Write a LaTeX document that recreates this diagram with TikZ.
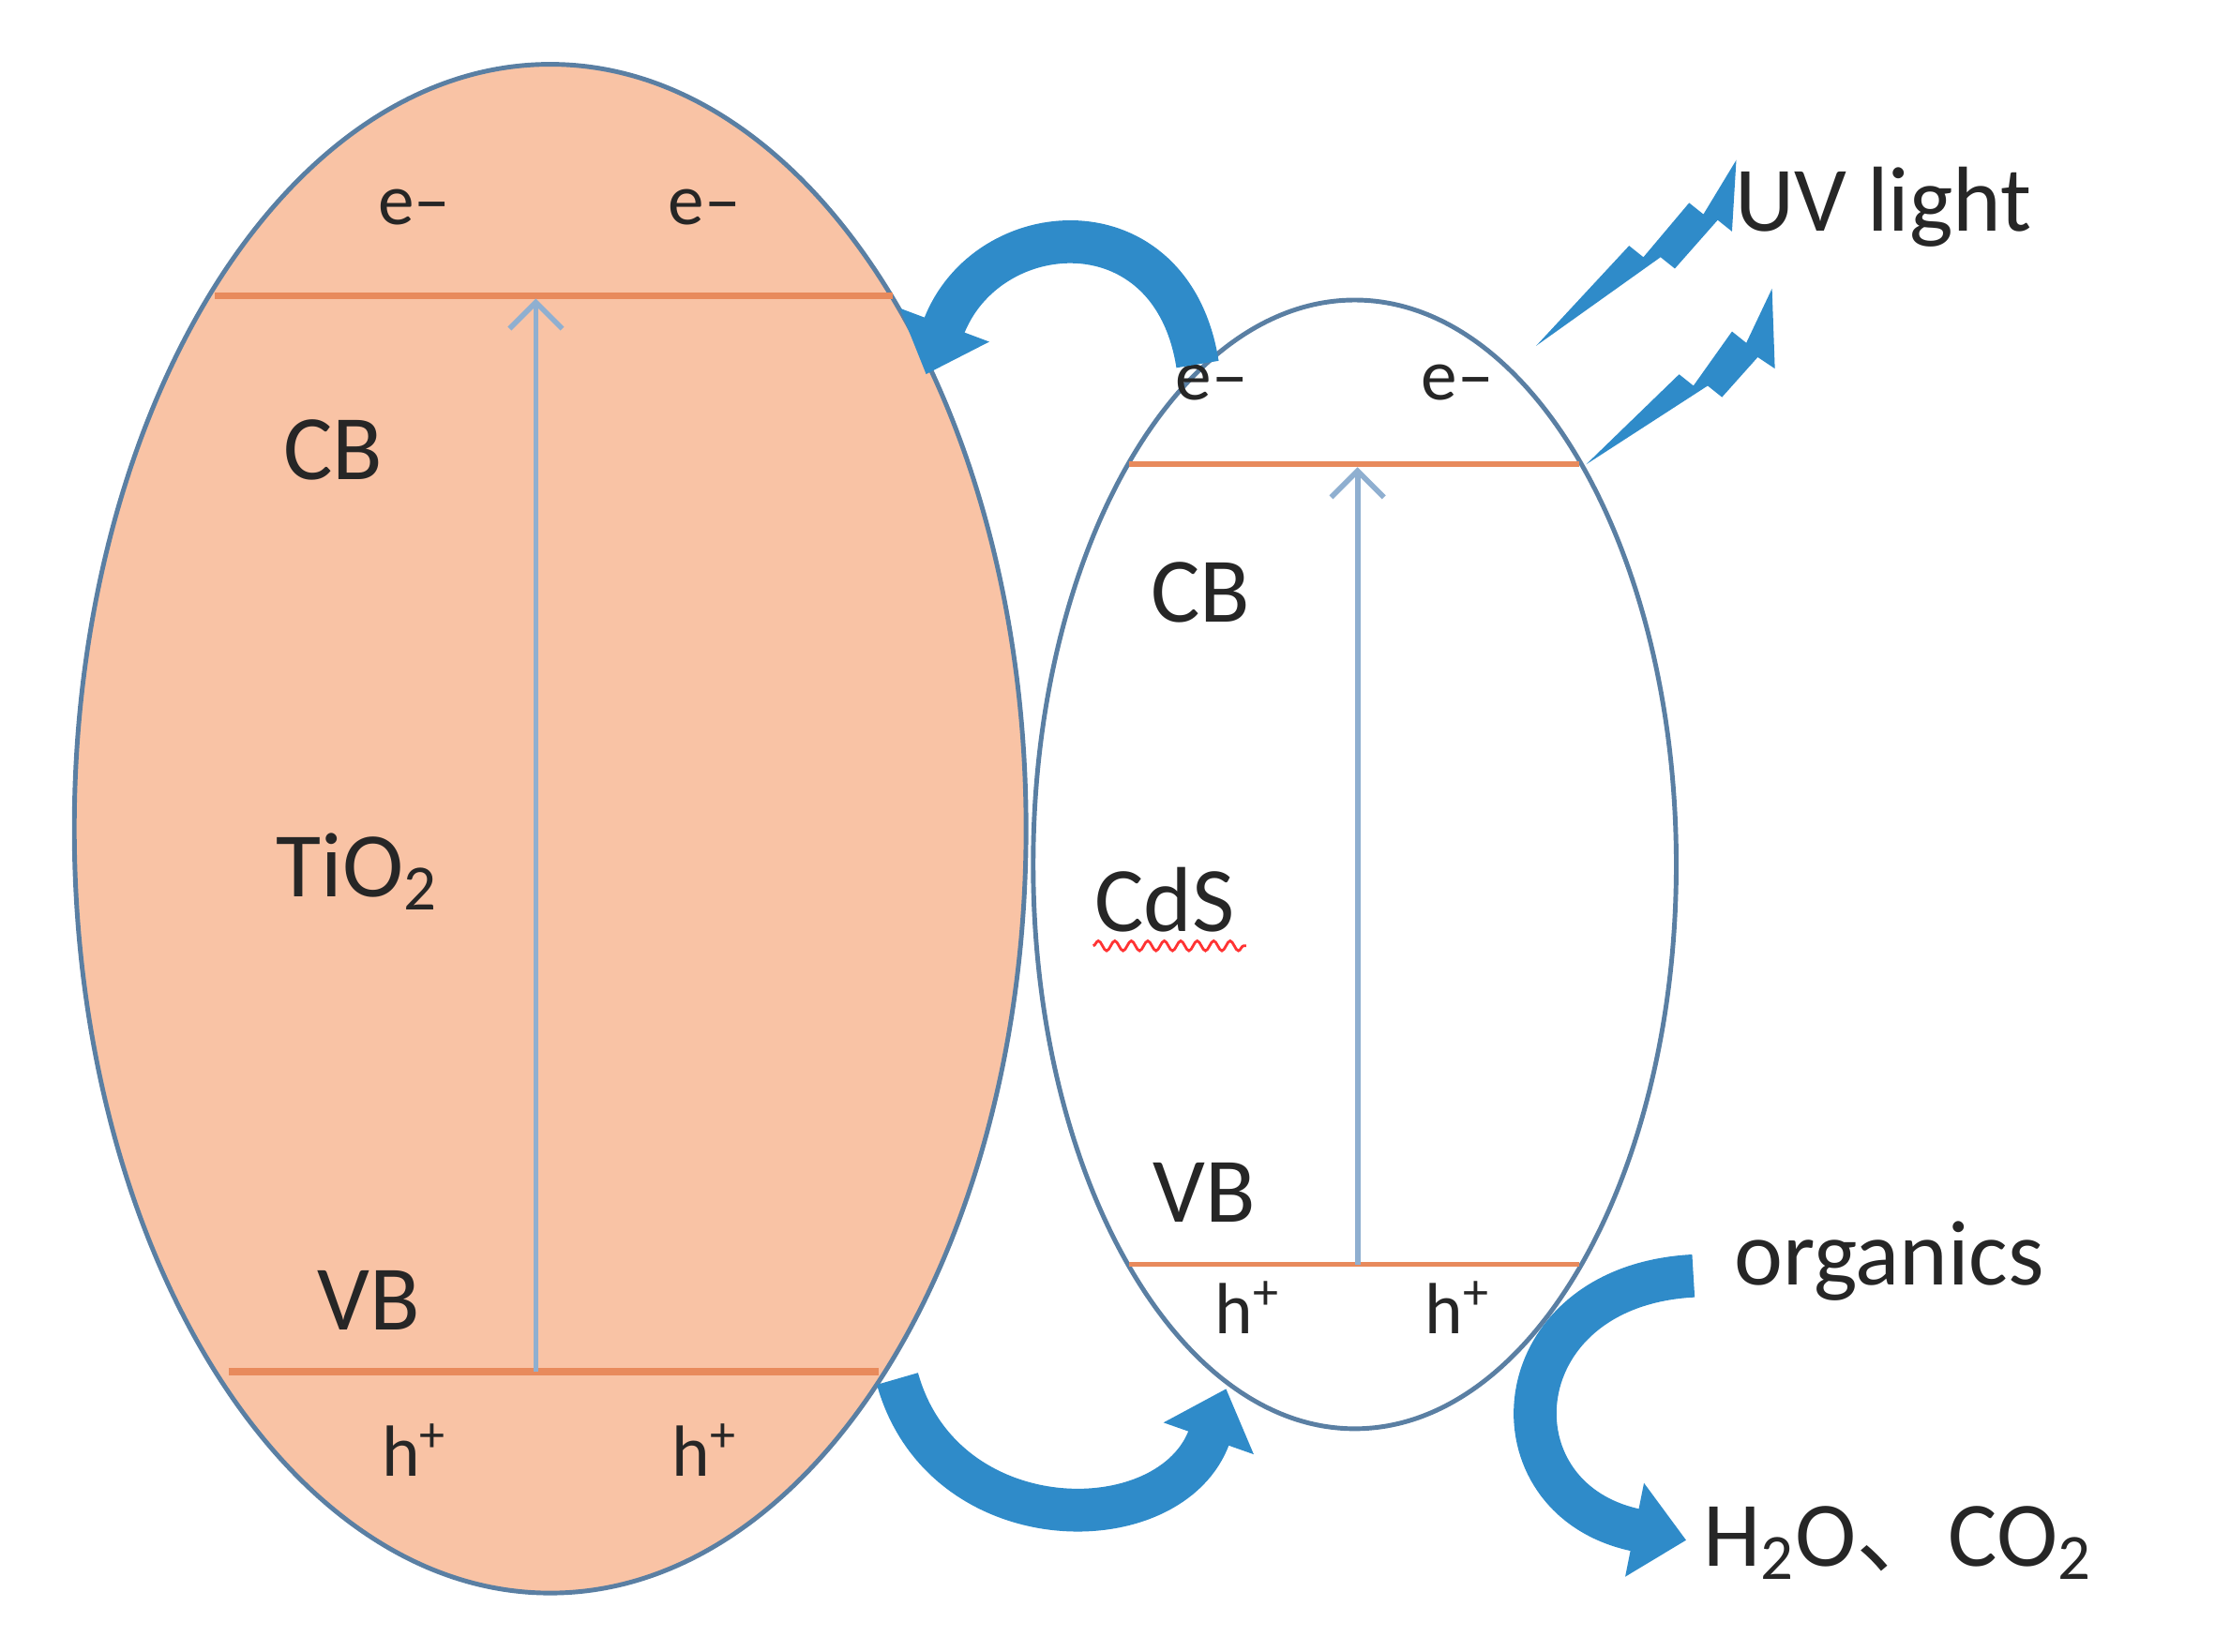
\documentclass[tikz,border=0pt]{standalone}
\usepackage{fontspec}
\setmainfont{Carlito}
\newfontfamily\cjk{Noto Sans CJK SC}
\usetikzlibrary{arrows.meta,decorations.pathmorphing}
\definecolor{peach}{HTML}{F9C3A5}
\definecolor{rim}{HTML}{5A7FA3}
\definecolor{band}{HTML}{E88A5C}
\definecolor{vert}{HTML}{8FAFD0}
\definecolor{flow}{HTML}{2F8BC9}
\tikzset{
 lbl/.style={font=\fontsize{28}{30}\selectfont,text=black!85},
 sm/.style={font=\fontsize{22}{24}\selectfont,text=black!85},
 bandline/.style={band,line width=2.2pt},
 up/.style={vert,line width=1.6pt,-{Straight Barb[length=8pt,width=16pt]}},
 big/.style={flow,line width=13pt,-{Triangle[length=16pt,width=28pt]}},
 bolt/.style={fill=flow,draw=none}
}
\begin{document}
\begin{tikzpicture}[x=0.01524cm,y=-0.01524cm]
\useasboundingbox (0,0) rectangle (1550,1156);
\draw[rim,line width=1.4pt,fill=peach] (385,580) ellipse [x radius=333,y radius=535];
\draw[rim,line width=1.4pt,fill=white] (948,605) ellipse [x radius=225,y radius=395];
% left bands
\coordinate (l1a) at (150,207); \coordinate (l1b) at (625,207);
\coordinate (l2a) at (160,960); \coordinate (l2b) at (615,960);
\draw[bandline] (l1a) -- (l1b);
\draw[bandline] (l2a) -- (l2b);
\coordinate (lvb) at (375,960); \coordinate (lcb) at (375,209);
\draw[up] (lvb) -- (lcb);
\node[sm] (le1) at (290,145) {e\textendash};
\node[sm] (le2) at (493,145) {e\textendash};
\node[lbl] (lcbt) at (233,315) {CB};
\node[lbl] (lti) at (250,610) {TiO\textsubscript{2}};
\node[lbl] (lvbt) at (258,910) {VB};
\node[sm] (lh1) at (290,1015) {h\textsuperscript{+}};
\node[sm] (lh2) at (493,1015) {h\textsuperscript{+}};
% right bands
\coordinate (r1a) at (790,325); \coordinate (r1b) at (1105,325);
\coordinate (r2a) at (790,885); \coordinate (r2b) at (1105,885);
\draw[bandline,line width=1.6pt] (r1a) -- (r1b);
\draw[bandline,line width=1.6pt] (r2a) -- (r2b);
\coordinate (rvb) at (950,885); \coordinate (rcb) at (950,327);
\draw[up] (rvb) -- (rcb);
\node[sm] (re1) at (848,268) {e\textendash};
\node[sm] (re2) at (1020,268) {e\textendash};
\node[lbl] (rcbt) at (840,415) {CB};
\node[lbl] (rcds) at (815,630) {CdS};
\draw[red!80,line width=0.8pt,decorate,decoration={snake,amplitude=1.5pt,segment length=5pt}] (765,662) -- (872,662);
\node[lbl] (rvbt) at (843,835) {VB};
\node[sm] (rh1) at (873,915) {h\textsuperscript{+}};
\node[sm] (rh2) at (1020,915) {h\textsuperscript{+}};
% curved arrows
\coordinate (t1) at (838,255); \coordinate (t2) at (648,262);
\draw[big] (t1) .. controls (820,140) and (690,150) .. (t2);
\coordinate (b1) at (628,965); \coordinate (b2) at (858,972);
\draw[big] (b1) .. controls (660,1080) and (820,1080) .. (b2);
\node[lbl] (org) at (1322,883) {organics};
\node[lbl] (prod) at (1328,1080) {H\textsubscript{2}O{\cjk 、}CO\textsubscript{2}};
\coordinate (o1) at (1185,893); \coordinate (o2) at (1180,1078);
\draw[big] (o1) .. controls (1050,900) and (1040,1050) .. (o2);
% lightning
\node[lbl] (uv) at (1318,145) {UV light};
\fill[bolt] (1075,242) -- (1140,172) -- (1150,180) -- (1182,142) -- (1192,150) -- (1215,112)
  -- (1212,162) -- (1202,154) -- (1172,188) -- (1162,180) -- cycle;
\fill[bolt] (1110,325) -- (1175,262) -- (1185,270) -- (1212,232) -- (1222,240) -- (1240,202)
  -- (1242,258) -- (1230,250) -- (1205,278) -- (1195,270) -- cycle;
\end{tikzpicture}
\end{document}
